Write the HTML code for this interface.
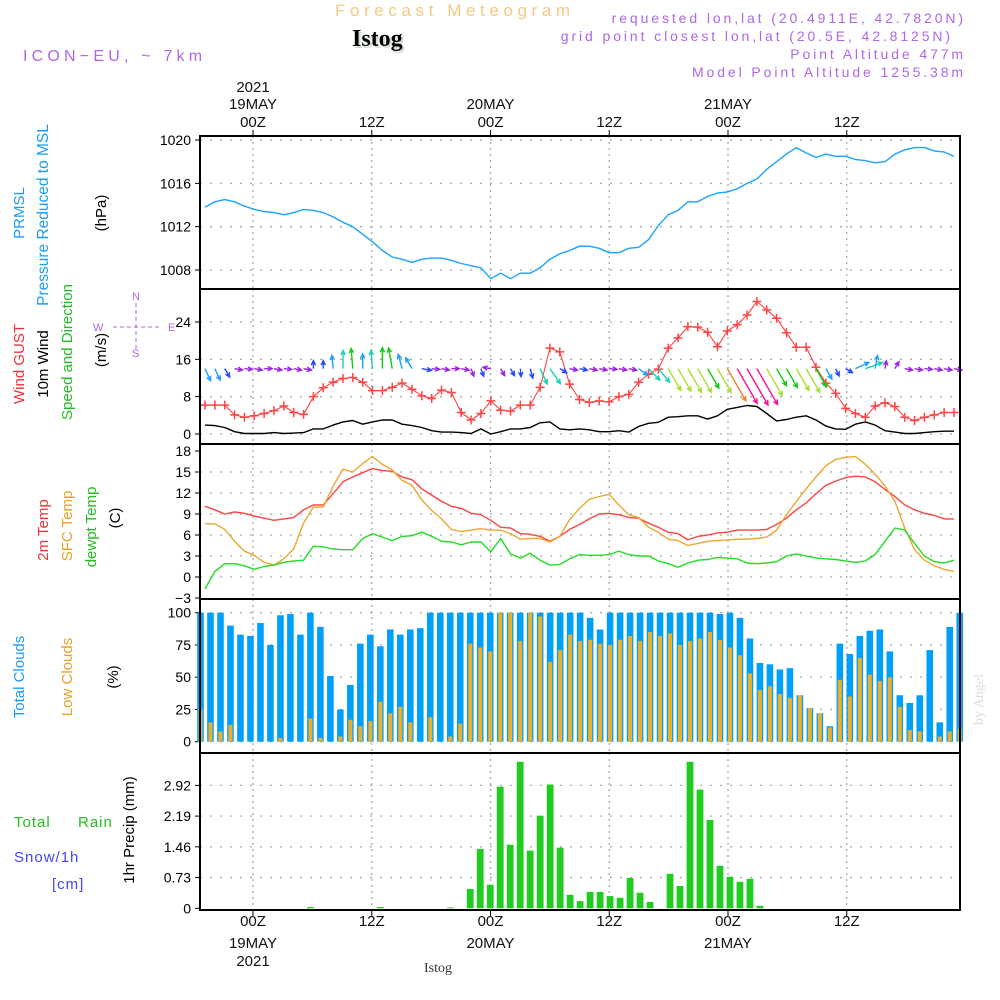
<!DOCTYPE html>
<html><head><meta charset="utf-8">
<style>
html,body{margin:0;padding:0;background:#fff;}
svg{display:block;font-family:"Liberation Sans",sans-serif;}
</style></head>
<body>
<svg id="chart" width="1000" height="1000" viewBox="0 0 1000 1000" xmlns="http://www.w3.org/2000/svg">
<rect x="0" y="0" width="1000" height="1000" fill="#fff"/>
<!-- header -->
<text x="335" y="16" font-size="17" fill="#f5c982" letter-spacing="4.6">Forecast Meteogram</text>
<text x="354" y="48" font-size="24" font-weight="bold" font-family="Liberation Serif, serif" fill="#cfe0cf">Istog</text>
<text x="352" y="46" font-size="24" font-weight="bold" font-family="Liberation Serif, serif" fill="#000">Istog</text>
<text x="23" y="61" font-size="16" fill="#b066e6" letter-spacing="4.2">ICON−EU, ~ 7km</text>
<g font-size="14" fill="#b066e6" text-anchor="end" letter-spacing="2.9">
<text x="966" y="23">requested lon,lat (20.4911E, 42.7820N)</text>
<text x="953" y="41">grid point closest lon,lat (20.5E, 42.8125N)</text>
<text x="966" y="59">Point Altitude 477m</text>
<text x="966" y="77">Model Point Altitude 1255.38m</text>
</g>
<text transform="translate(983,725) rotate(-90)" font-size="14" font-family="Liberation Serif, serif" fill="#dddddd">by Angel</text>
<text x="424" y="972" font-size="14" font-family="Liberation Serif, serif" fill="#333">Istog</text>

<!-- left axis titles -->
<g font-size="15">
<text transform="translate(24,213) rotate(-90)" text-anchor="middle" fill="#1a9cf0">PRMSL</text>
<text transform="translate(48,215) rotate(-90)" text-anchor="middle" fill="#1a9cf0" font-size="15.5">Pressure Reduced to MSL</text>
<text transform="translate(106,213) rotate(-90)" text-anchor="middle" fill="#000">(hPa)</text>
<text transform="translate(24,364) rotate(-90)" text-anchor="middle" fill="#ee3333">Wind GUST</text>
<text transform="translate(48,364) rotate(-90)" text-anchor="middle" fill="#000">10m Wind</text>
<text transform="translate(72,352) rotate(-90)" text-anchor="middle" fill="#22bb22">Speed and Direction</text>
<text transform="translate(106,350) rotate(-90)" text-anchor="middle" fill="#000">(m/s)</text>
<text transform="translate(48,530) rotate(-90)" text-anchor="middle" fill="#ee3333">2m Temp</text>
<text transform="translate(72,526) rotate(-90)" text-anchor="middle" fill="#eaa020">SFC Temp</text>
<text transform="translate(96,527) rotate(-90)" text-anchor="middle" fill="#22bb22">dewpt Temp</text>
<text transform="translate(120,518) rotate(-90)" text-anchor="middle" fill="#000">(C)</text>
<text transform="translate(24,677) rotate(-90)" text-anchor="middle" fill="#1a9cf0">Total Clouds</text>
<text transform="translate(72,677) rotate(-90)" text-anchor="middle" fill="#eaa020">Low Clouds</text>
<text transform="translate(118,677) rotate(-90)" text-anchor="middle" fill="#000">(%)</text>
<text transform="translate(134,830) rotate(-90)" text-anchor="middle" fill="#000">1hr Precip (mm)</text>
<text x="14" y="827" fill="#22bb22" letter-spacing="1">Total</text>
<text x="78" y="827" fill="#22bb22" letter-spacing="1">Rain</text>
<text x="14" y="862" fill="#4444ff" letter-spacing="1">Snow/1h</text>
<text x="52" y="889" fill="#4444ff" letter-spacing="1">[cm]</text>
</g>
<g stroke="#b066e6" fill="#b066e6" font-size="11">
<text x="132" y="300" stroke="none">N</text>
<text x="132" y="357" stroke="none">S</text>
<text x="93" y="331" stroke="none">W</text>
<text x="168" y="331" stroke="none">E</text>
<line x1="113" y1="327" x2="161" y2="327" stroke-dasharray="4 3"/>
<line x1="136" y1="303" x2="136" y2="350" stroke-dasharray="4 3"/>
</g>
<g id="plot"></g>
</svg>
<script>
// ===== data =====
const timeTickLabels = ["00Z","12Z","00Z","12Z","00Z","12Z"];
const timeTickDates = ["19MAY","","20MAY","","21MAY",""];
const timeTickHours = [0,12,24,36,48,60];

const pressure = [1013.8,1014.3,1014.5,1014.3,1013.9,1013.6,1013.4,1013.3,1013.1,1013.3,1013.6,1013.5,1013.3,1012.9,1012.4,1012.0,1011.3,1010.6,1009.8,1009.2,1009.0,1008.7,1009.0,1009.1,1009.1,1008.9,1008.6,1008.4,1008.2,1007.2,1007.7,1007.2,1007.7,1007.7,1008.2,1009.0,1009.5,1009.8,1010.2,1010.2,1010.0,1009.6,1009.6,1010.0,1010.1,1010.8,1012.1,1013.1,1013.5,1014.3,1014.3,1014.8,1015.1,1015.2,1015.5,1016.0,1016.4,1017.3,1018.0,1018.7,1019.3,1018.8,1018.4,1018.7,1018.5,1018.5,1018.2,1018.1,1017.9,1018.0,1018.7,1019.1,1019.3,1019.3,1019.0,1018.9,1018.5];
const windGust = [6.2,6.2,6.2,4.1,3.6,3.9,4.4,5.0,6.0,4.6,4.2,8.0,9.9,11.1,11.9,12.1,11.1,9.3,9.3,10.0,10.9,9.6,8.2,7.6,9.4,8.9,4.6,3.0,4.4,7.1,5.1,4.9,6.2,6.2,10.0,18.4,17.6,10.7,7.4,6.8,7.1,6.9,8.0,8.5,11.1,12.8,13.9,18.4,20.6,23.0,22.9,21.8,18.7,22.1,23.4,25.5,28.4,26.6,24.8,21.7,18.6,18.6,14.3,10.9,8.7,5.5,4.4,3.6,6.0,6.7,5.9,3.6,2.9,3.6,4.1,4.6,4.6];
const windSpeed = [1.9,1.8,1.4,0.5,0.1,0.1,0.1,0.3,0.1,0.2,0.3,1.1,1.1,1.9,2.6,2.9,2.1,2.6,3.0,3.0,2.1,1.8,1.4,0.7,0.4,0.4,0.3,0.1,1.1,0.0,0.5,1.1,1.1,1.4,2.4,2.6,1.1,0.9,1.1,0.9,0.5,0.5,0.7,0.4,1.6,2.3,2.5,3.6,3.7,3.9,3.9,3.2,3.9,5.3,5.7,6.1,5.9,4.4,2.8,3.1,3.6,3.9,3.0,1.7,1.1,1.0,2.1,2.6,1.9,0.7,0.4,0.1,0.1,0.3,0.5,0.6,0.6];
const windDir = [155,155,150,100,95,100,90,100,95,100,100,0,0,355,0,355,0,355,0,350,345,330,100,95,100,90,100,160,160,280,150,150,175,165,155,145,120,100,100,100,100,95,100,100,125,135,140,150,150,150,150,150,150,150,150,150,150,150,150,150,150,150,150,150,155,120,65,70,10,10,30,100,100,95,100,100,100];
const temp2m = [10.1,9.6,9.0,9.3,9.1,8.7,8.4,8.1,8.3,8.5,9.6,10.3,10.3,11.9,13.6,14.3,14.9,15.5,15.2,15.1,14.3,13.9,12.6,11.7,10.8,10.1,9.8,9.1,8.9,8.1,7.1,7.0,6.2,6.1,5.8,5.1,5.8,6.8,7.5,8.3,9.0,9.1,8.9,8.5,8.4,7.7,7.1,6.4,6.2,5.3,5.8,6.0,6.3,6.4,6.7,6.7,6.7,6.8,7.5,8.4,9.6,10.6,11.9,13.1,13.7,14.2,14.4,14.3,13.6,12.5,11.5,10.3,9.6,9.1,8.8,8.3,8.3];
const tempSfc = [7.6,7.6,6.8,5.1,3.7,3.1,2.1,1.7,2.6,4.0,7.7,10.0,10.0,13.0,15.4,15.0,16.2,17.2,16.1,15.3,13.8,13.1,11.0,9.5,8.3,6.8,6.5,6.7,6.9,6.7,6.7,6.2,5.4,5.5,5.5,5.0,5.8,8.2,9.8,11.1,11.5,11.8,10.3,8.9,8.5,7.1,6.4,5.4,5.2,4.5,4.8,5.1,5.2,5.3,5.4,5.4,5.5,5.7,6.7,8.9,10.8,12.6,14.3,15.9,16.8,17.1,17.2,16.1,14.7,13.0,10.8,7.0,3.9,2.4,1.6,1.1,0.8];
const dewpt = [-1.7,0.8,1.9,1.9,1.6,1.1,1.5,1.7,2.1,2.3,2.4,4.4,4.3,4.0,3.9,3.9,5.5,6.2,5.7,5.2,5.8,5.9,6.4,5.8,5.1,5.0,4.6,5.0,5.0,3.6,5.5,3.3,2.7,3.4,2.4,1.7,1.8,2.6,3.2,3.1,3.1,3.2,3.7,3.2,3.0,3.0,2.3,1.9,1.4,2.0,2.4,2.5,2.8,2.7,2.6,2.0,1.9,2.0,2.2,3.0,3.3,3.0,2.7,2.6,2.5,2.3,2.1,2.3,3.2,5.1,7.0,6.7,4.8,3.0,2.2,2.0,2.4];
const totalClouds = [100,100,100,90,83,82,92,75,98,99,83,100,89,51,25,44,76,83,74,87,83,87,88,100,100,100,100,100,100,100,100,100,100,100,100,100,100,100,100,96,87,100,100,100,100,100,100,100,100,100,100,100,99,100,96,80,61,60,56,57,36,26,22,12,76,68,82,86,87,70,36,30,36,71,15,89,100];
const lowClouds = [25,15,8,13,0,0,0,0,3,0,0,18,3,0,4,17,12,16,31,22,27,15,0,19,0,4,14,76,73,70,100,100,78,100,97,62,71,83,78,79,76,75,79,82,78,85,82,84,75,78,80,85,79,73,67,53,40,43,37,34,36,26,22,11,48,35,65,52,47,50,27,9,8,0,4,8,10];
const precip = [0,0,0,0,0,0,0,0,0,0,0,0.03,0,0,0,0,0,0,0.03,0,0,0,0,0,0,0.02,0,0.46,1.41,0.56,2.89,1.51,3.48,1.37,2.2,2.94,1.44,0.32,0.17,0.39,0.39,0.29,0.25,0.72,0.37,0.15,0,0.82,0.53,3.48,2.82,2.10,1.01,0.75,0.63,0.70,0.06,0,0,0,0,0,0,0,0,0,0,0,0,0,0,0,0,0,0,0,0];

const pressureTicks = [1008,1012,1016,1020];
const windTicks = [0,8,16,24];
const tempTicks = [-3,0,3,6,9,12,15,18];
const cloudTicks = [0,25,50,75,100];
const precipTicks = [0,0.73,1.46,2.19,2.92];

// ===== scales =====
const X0=200, X1=960;
const xTime = h => 253 + h*118.75/12;
const xBar = i => 200.5 + i*9.99;
const xLine = i => 205 + i*9.855;
const yP = v => 270 - (v-1008)*10.83;
const yW = v => 434 - v*4.667;
const yT = v => 577 - v*7;
const yC = v => 741.7 - v*1.29;
const yR = v => 908.3 - v*42.1;
const panels = [[136,289],[289,444],[444,599],[599,753],[753,910]];

const NS="http://www.w3.org/2000/svg";
const plot=document.getElementById('plot');
function mk(tag, attrs, parent){
  const e=document.createElementNS(NS,tag);
  for(const k in attrs) e.setAttribute(k,attrs[k]);
  (parent||plot).appendChild(e);
  return e;
}
function grp(name){
  const g=mk('g',{});
  
  
  return g;
}

// grids
const gridG=grp('grid-lines');
panels.forEach(p=>{
  timeTickHours.forEach(h=>{
    const l=mk('line',{x1:xTime(h),x2:xTime(h),y1:p[0],y2:p[1],stroke:'#aaa','stroke-width':1.3,'stroke-dasharray':'2 4'},gridG);
    
    
  });
});
function hgrid(ticks, yf, name){
  ticks.forEach(t=>{
    const l=mk('line',{x1:X0,x2:X1,y1:yf(t),y2:yf(t),stroke:'#aaa','stroke-width':1.3,'stroke-dasharray':'2 8'},gridG);
    
    
  });
}
hgrid(pressureTicks,yP,'pressure');
hgrid(windTicks,yW,'wind');
hgrid(tempTicks.filter(t=>t>-3&&t<18),yT,'temp');
hgrid(cloudTicks,yC,'cloud');
hgrid(precipTicks.slice(1),yR,'precip');

// y tick labels
const tickG=grp('y-tick-labels');
function ylabels(ticks, yf, name, fmt){
  ticks.forEach(t=>{
    const tx=mk('text',{x:191,y:yf(t)+5,'font-size':14,'text-anchor':'end',fill:'#000'},tickG);
    tx.textContent = fmt ? fmt(t) : String(t).replace('-','−');
    
    
    const tl=mk('line',{x1:195,x2:200,y1:yf(t),y2:yf(t),stroke:'#000'},tickG);
    
    
  });
}
ylabels(pressureTicks,yP,'pressure');
ylabels(windTicks,yW,'wind');
ylabels(tempTicks,yT,'temp');
ylabels(cloudTicks,yC,'cloud');
ylabels(precipTicks,yR,'precip',t=>t===0?'0':t.toFixed(2));

// cloud bars
const cloudG=grp('cloud-bars');
totalClouds.forEach((v,i)=>{
  const r=mk('rect',{x:xBar(i)-3.3,y:yC(v),width:6.6,height:yC(0)-yC(v),fill:'#00a0f8'},cloudG);
  
  
});
lowClouds.forEach((v,i)=>{
  if(v<=0) return;
  const r=mk('rect',{x:xBar(i)-2,y:yC(v),width:4,height:yC(0)-yC(v),fill:'#e8b030'},cloudG);
  
  
});
// precip bars
const precG=grp('precip-bars');
precip.forEach((v,i)=>{
  if(v<=0) return;
  const r=mk('rect',{x:xBar(i)-3.4,y:yR(v),width:6.8,height:yR(0)-yR(v),fill:'#20cc20'},precG);
  
  
});

// lines
function line(arr, yf, color, name, w){
  const d=arr.map((v,i)=>(i?'L':'M')+xLine(i).toFixed(1)+','+yf(v).toFixed(1)).join('');
  const p=mk('path',{d:d,fill:'none',stroke:color,'stroke-width':w||1.4,'stroke-linejoin':'round'});
  
  
  return p;
}
line(pressure,yP,'#1aa3ff','pressure-line');
line(windSpeed,yW,'#000','wind-speed-line');
line(windGust,yW,'#ff4444','wind-gust-line',1.1);
const gustG=grp('gust-markers');
windGust.forEach((v,i)=>{
  const x=xLine(i), y=yW(v);
  const m=mk('path',{d:`M${x-4.5},${y}h9M${x},${y-4.5}v9`,stroke:'#ff4444','stroke-width':1.5},gustG);
  
  
});
line(temp2m,yT,'#ff4444','temp-2m-line');
line(tempSfc,yT,'#eaa830','sfc-temp-line');
line(dewpt,yT,'#22dd22','dewpt-line');

// wind arrows
function arrowColor(s){
  if(s<1) return '#9b22e8';
  if(s<1.5) return '#2448ff';
  if(s<2.2) return '#1ca0ff';
  if(s<2.7) return '#18d0b0';
  if(s<3.4) return '#10cc10';
  if(s<4.6) return '#a6e030';
  if(s<5.4) return '#f08020';
  return '#ff1090';
}
const arrG=grp('wind-arrows');
windDir.forEach((d,i)=>{
  const s=windSpeed[i];
  const L=Math.min(42,Math.max(8,7*s));
  const a=d*Math.PI/180;
  const x0=xLine(i), y0=yW(14);
  const x1=x0+L*Math.sin(a), y1=y0-L*Math.cos(a);
  const h=5, spread=0.45;
  const hx1=x1-h*Math.sin(a-spread), hy1=y1+h*Math.cos(a-spread);
  const hx2=x1-h*Math.sin(a+spread), hy2=y1+h*Math.cos(a+spread);
  const p=mk('path',{d:`M${x0},${y0}L${x1},${y1}M${hx1},${hy1}L${x1},${y1}L${hx2},${hy2}`,fill:'none',stroke:arrowColor(s),'stroke-width':1.4},arrG);
  
  
});

// panel frames
const frameG=grp('panel-frames');
panels.forEach(p=>{
  const r=mk('rect',{x:X0,y:p[0],width:X1-X0,height:p[1]-p[0],fill:'none',stroke:'#000','stroke-width':2},frameG);
  
  
});

// time axis labels
const taG=grp('time-axis-labels');
timeTickHours.forEach((h,k)=>{
  const x=xTime(h);
  const t1=mk('text',{x:x,y:127,'font-size':15,'text-anchor':'middle',fill:'#111'},taG);
  t1.textContent=timeTickLabels[k];
  
  
  const t2=mk('text',{x:x,y:926,'font-size':15,'text-anchor':'middle',fill:'#111'},taG);
  t2.textContent=timeTickLabels[k];
  
  
  mk('line',{x1:x,x2:x,y1:130,y2:136,stroke:'#000'},taG);
  mk('line',{x1:x,x2:x,y1:910,y2:916,stroke:'#000'},taG);
  if(timeTickDates[k]){
    const d1=mk('text',{x:x,y:109,'font-size':15,'text-anchor':'middle',fill:'#111'},taG);
    d1.textContent=timeTickDates[k];
    
    
    const d2=mk('text',{x:x,y:948,'font-size':15,'text-anchor':'middle',fill:'#111'},taG);
    d2.textContent=timeTickDates[k];
    
    
  }
});
const y1=mk('text',{x:xTime(0),y:92,'font-size':15,'text-anchor':'middle',fill:'#111'},taG);
y1.textContent='2021';


const y2=mk('text',{x:xTime(0),y:966,'font-size':15,'text-anchor':'middle',fill:'#111'},taG);
y2.textContent='2021';


</script>
</body></html>
